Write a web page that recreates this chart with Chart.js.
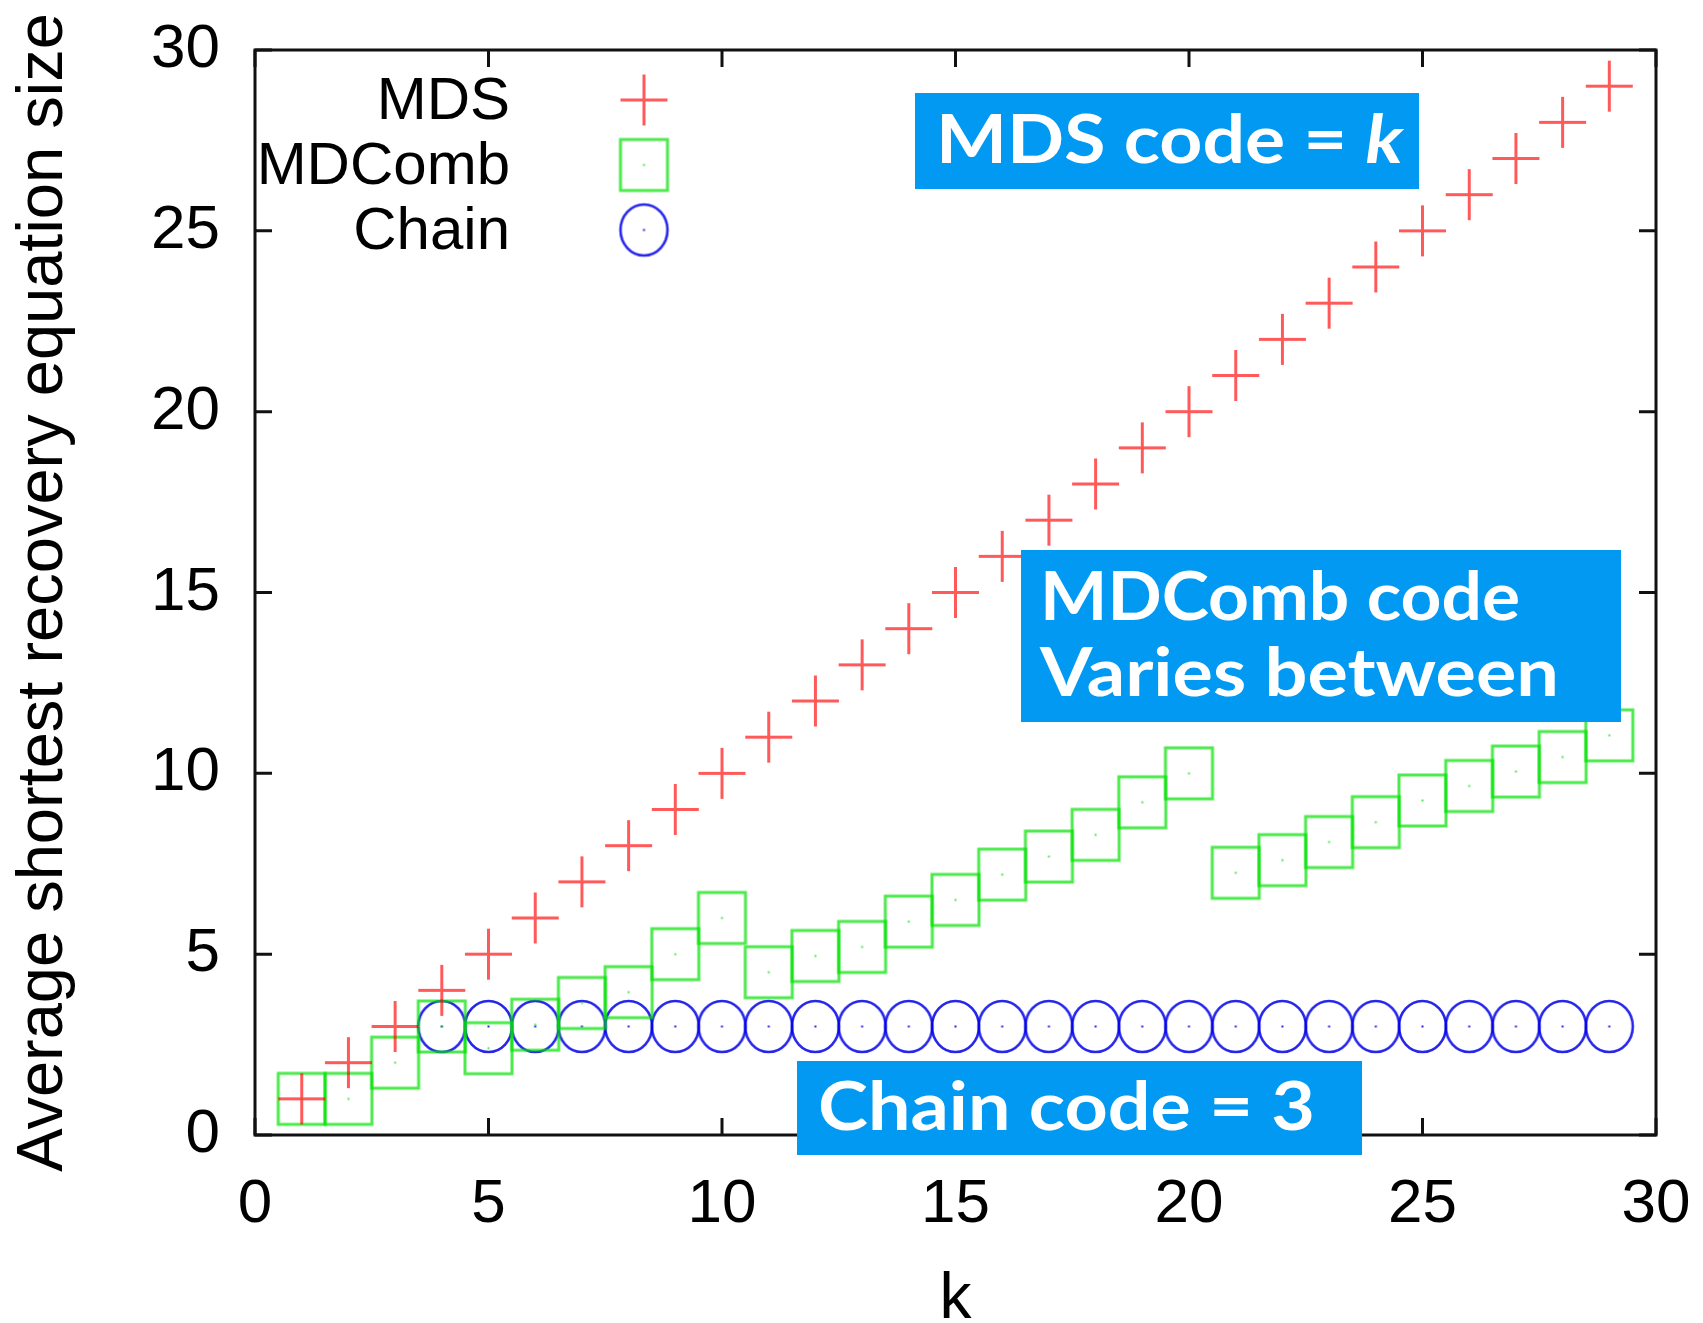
<html>
<head>
    <script src="https://cdn.jsdelivr.net/npm/chart.js"></script>
</head>
<body style="margin:0; background:#fff;">
    <canvas id="chart_id" width="1703" height="1323"></canvas>
    <script>
        // data
        const kTicks = [0, 5, 10, 15, 20, 25, 30];
        const sizeTicks = [0, 5, 10, 15, 20, 25, 30];

        const mdsK    = [1, 2, 3, 4, 5, 6, 7, 8, 9, 10, 11, 12, 13, 14, 15, 16, 17, 18, 19, 20, 21, 22, 23, 24, 25, 26, 27, 28, 29];
        const mdsSize = [1, 2, 3, 4, 5, 6, 7, 8, 9, 10, 11, 12, 13, 14, 15, 16, 17, 18, 19, 20, 21, 22, 23, 24, 25, 26, 27, 28, 29];

        const mdcombK    = [1, 2, 3, 4, 5, 6, 7, 8, 9, 10, 11, 12, 13, 14, 15, 16, 17, 18, 19, 20, 21, 22, 23, 24, 25, 26, 27, 28, 29];
        const mdcombSize = [1.0, 1.0, 2.0, 3.0, 2.4, 3.05, 3.65, 3.95, 5.0, 6.0, 4.5, 4.95, 5.2, 5.9, 6.5, 7.2, 7.7, 8.3, 9.2, 10.0,
                            7.25, 7.6, 8.1, 8.65, 9.25, 9.65, 10.05, 10.45, 11.05];

        const chainK    = [4, 5, 6, 7, 8, 9, 10, 11, 12, 13, 14, 15, 16, 17, 18, 19, 20, 21, 22, 23, 24, 25, 26, 27, 28, 29];
        const chainSize = [3, 3, 3, 3, 3, 3, 3, 3, 3, 3, 3, 3, 3, 3, 3, 3, 3, 3, 3, 3, 3, 3, 3, 3, 3, 3];

        const FONT = '"Liberation Sans", Arial, sans-serif';
        const BOX_FONT = 'Lato, "Open Sans", sans-serif';
        const BLUE = '#0199f2';

        function toPoints(xs, ys) {
            return xs.map((x, i) => ({ x: x, y: ys[i] }));
        }

        // gnuplot style markers (slightly taller than wide, with a centre dot)
        function marker(w, h, color, lw, draw) {
            const c = document.createElement('canvas');
            c.width = w + 6; c.height = h + 6;
            const g = c.getContext('2d');
            g.strokeStyle = color; g.fillStyle = color; g.lineWidth = lw;
            g.translate(c.width / 2, c.height / 2);
            draw(g, w / 2, h / 2);
            return c;
        }
        const plusMark = marker(47, 51, 'rgba(255,0,0,0.65)', 3, (g, a, b) => {
            g.beginPath(); g.moveTo(-a, 0); g.lineTo(a, 0); g.moveTo(0, -b); g.lineTo(0, b); g.stroke();
        });
        const squareMark = marker(47, 51, 'rgba(0,225,0,0.7)', 3, (g, a, b) => {
            g.strokeRect(-a, -b, 2 * a, 2 * b); g.fillRect(-1, -1, 2, 2);
        });
        const circleMark = marker(47, 51, 'rgba(0,0,230,0.85)', 2.6, (g, a, b) => {
            g.beginPath(); g.ellipse(0, 0, a, b, 0, 0, Math.PI * 2); g.stroke(); g.fillRect(-1, -1, 2, 2);
        });

        // 글자 폭을 목표 폭에 맞춰 그리기
        function fitText(ctx, parts, x, y, target) {
            let total = 0;
            parts.forEach(p => { ctx.font = p.font; total += ctx.measureText(p.text).width; });
            const sx = target / total;
            ctx.save();
            ctx.translate(x, y);
            ctx.scale(sx, 1);
            let cx = 0;
            parts.forEach(p => {
                ctx.font = p.font;
                ctx.fillText(p.text, cx, 0);
                cx += ctx.measureText(p.text).width;
            });
            ctx.restore();
        }

        // 축 크기 고정 (라벨 넘침 여백 제거)
        function fixSize(prop, value) {
            return scale => {
                scale[prop] = value;
                scale.paddingTop = 0; scale.paddingBottom = 0;
                scale.paddingLeft = 0; scale.paddingRight = 0;
            };
        }

        // 프레임, 안쪽 눈금, 범례, 파란 주석 상자
        const decorations = {
            id: 'decorations',
            afterDraw(chart) {
                const ctx = chart.ctx;
                const area = chart.chartArea;
                const xs = chart.scales.x, ys = chart.scales.y;
                ctx.save();

                // border + mirrored inward ticks
                ctx.strokeStyle = '#111';
                ctx.lineWidth = 3;
                ctx.strokeRect(area.left, area.top, area.right - area.left, area.bottom - area.top);
                const tl = 17;
                ctx.beginPath();
                kTicks.forEach(v => {
                    const px = xs.getPixelForValue(v);
                    ctx.moveTo(px, area.bottom); ctx.lineTo(px, area.bottom - tl);
                    ctx.moveTo(px, area.top); ctx.lineTo(px, area.top + tl);
                });
                sizeTicks.forEach(v => {
                    const py = ys.getPixelForValue(v);
                    ctx.moveTo(area.left, py); ctx.lineTo(area.left + tl, py);
                    ctx.moveTo(area.right, py); ctx.lineTo(area.right - tl, py);
                });
                ctx.stroke();

                // legend (text right aligned, symbol after)
                const rows = [100, 165, 230];
                ctx.font = '60px ' + FONT;
                ctx.textAlign = 'right';
                ctx.textBaseline = 'middle';
                chart.data.datasets.forEach((ds, i) => {
                    ctx.fillStyle = '#000';
                    ctx.fillText(ds.label, 510, rows[i] + 2);
                    const m = ds.pointStyle;
                    ctx.drawImage(m, 644 - m.width / 2, rows[i] - m.height / 2);
                });

                // annotations
                ctx.textAlign = 'left';
                ctx.textBaseline = 'alphabetic';
                const bold = 'bold 66px ' + BOX_FONT;
                const boldIt = 'italic bold 66px ' + BOX_FONT;

                ctx.fillStyle = BLUE;
                ctx.fillRect(915, 93, 504, 96);
                ctx.fillStyle = '#fff';
                fitText(ctx, [{ text: 'MDS code = ', font: bold }, { text: 'k', font: boldIt }], 936, 163, 467);

                ctx.fillStyle = BLUE;
                ctx.fillRect(1021, 550, 600, 172);
                ctx.fillStyle = '#fff';
                fitText(ctx, [{ text: 'MDComb code', font: bold }], 1040, 620, 480);
                fitText(ctx, [{ text: 'Varies between', font: bold }], 1040, 696, 519);

                ctx.fillStyle = BLUE;
                ctx.fillRect(797, 1061, 565, 94);
                ctx.fillStyle = '#fff';
                fitText(ctx, [{ text: 'Chain code = 3', font: bold }], 818, 1130, 497);

                ctx.restore();
            }
        };

        new Chart(document.getElementById('chart_id'), {
            type: 'scatter',
            data: {
                datasets: [{
                    label: 'MDS',
                    data: toPoints(mdsK, mdsSize),
                    pointStyle: plusMark
                }, {
                    label: 'MDComb',
                    data: toPoints(mdcombK, mdcombSize),
                    pointStyle: squareMark
                }, {
                    label: 'Chain',
                    data: toPoints(chainK, chainSize),
                    pointStyle: circleMark
                }]
            },
            options: {
                responsive: false,
                animation: false,
                layout: { padding: { left: 0, top: 50, right: 47, bottom: 0 } },
                plugins: {
                    legend: { display: false },
                    tooltip: { enabled: false }
                },
                scales: {
                    x: {
                        type: 'linear', min: 0, max: 30,
                        grid: { display: false },
                        border: { display: false },
                        ticks: { stepSize: 5, padding: 25, color: '#000', font: { family: FONT, size: 62 } },
                        title: { display: true, text: 'k', color: '#000', padding: 0,
                                 font: { family: FONT, size: 64, lineHeight: 0.7 } },
                        afterFit: fixSize('height', 188)
                    },
                    y: {
                        type: 'linear', min: 0, max: 30,
                        grid: { display: false },
                        border: { display: false },
                        ticks: { stepSize: 5, padding: 27, color: '#000', font: { family: FONT, size: 62 } },
                        title: { display: true, text: 'Average shortest recovery equation size', color: '#000',
                                 padding: { top: 5, bottom: 0 }, font: { family: FONT, size: 65 } },
                        afterFit: fixSize('width', 255)
                    }
                }
            },
            plugins: [decorations]
        });
    </script>
</body>
</html>
